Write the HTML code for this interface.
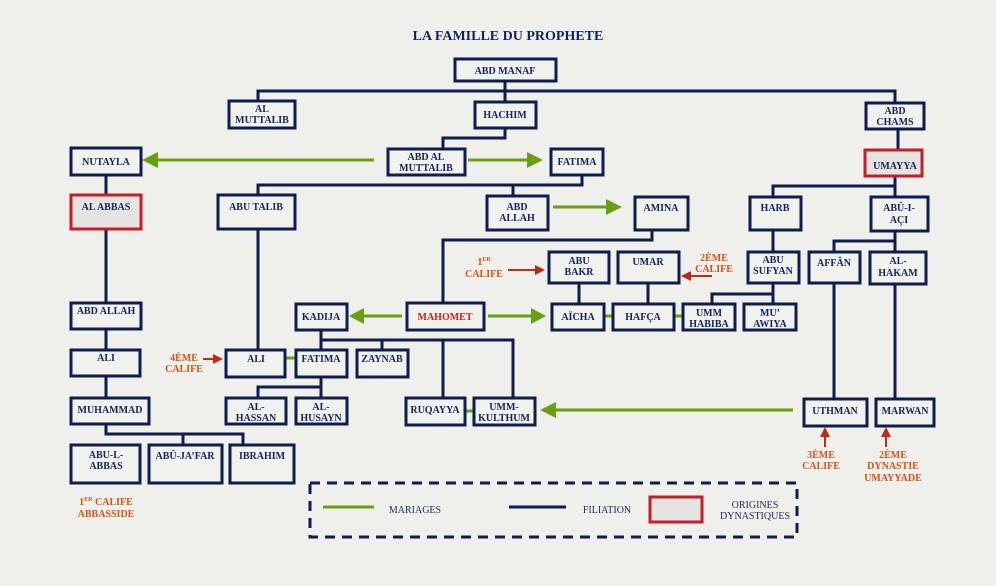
<!DOCTYPE html>
<html><head><meta charset="utf-8"><style>
html,body{margin:0;padding:0;background:#efefeb;}
svg{display:block}
text{font-family:"Liberation Serif",serif;font-weight:bold;font-size:10px;fill:#12235a;text-anchor:middle}
.o{fill:#d2531a}
.l{font-weight:normal;fill:#1d2c5e}
</style></head><body>
<svg width="996" height="586" viewBox="0 0 996 586" xmlns="http://www.w3.org/2000/svg">
<rect width="996" height="586" fill="#efefeb"/>
<text x="508" y="40" style="font-size:14px">LA  FAMILLE  DU  PROPHETE</text>

<g stroke="#0f1d4d" stroke-width="3" fill="none">
<polyline points="505,81 505,102"/>
<polyline points="258,101 258,91 895,91 895,103"/>
<polyline points="505,128 505,138 443,138 443,149"/>
<polyline points="106,175 106,195"/>
<polyline points="106,229 106,303"/>
<polyline points="106,329 106,350"/>
<polyline points="106,376 106,398"/>
<polyline points="106,424 106,434 243,434 243,445"/>
<polyline points="183,434 183,445"/>
<polyline points="582,175 582,185 258,185 258,195"/>
<polyline points="513,185 513,196"/>
<polyline points="258,229 258,350"/>
<polyline points="652,230 652,240 443,240 443,303"/>
<polyline points="898,129 898,150"/>
<polyline points="895,176 895,197"/>
<polyline points="895,186 773,186 773,197"/>
<polyline points="773,230 773,252"/>
<polyline points="773,283 773,304"/>
<polyline points="773,294 712,294 712,304"/>
<polyline points="895,231 895,252"/>
<polyline points="895,241 834,241 834,252"/>
<polyline points="834,283 834,399"/>
<polyline points="895,284 895,399"/>
<polyline points="579,283 579,304"/>
<polyline points="648,283 648,304"/>
<polyline points="321,330 321,350"/>
<polyline points="321,340 513,340 513,398"/>
<polyline points="382,340 382,350"/>
<polyline points="443,340 443,398"/>
<polyline points="321,377 321,398"/>
<polyline points="321,387 258,387 258,398"/>
</g>

<g stroke="#6b9e12" stroke-width="3" fill="none">
<line x1="374" y1="160" x2="156" y2="160"/>
<line x1="468" y1="160" x2="530" y2="160"/>
<line x1="553" y1="207" x2="608" y2="207"/>
<line x1="402" y1="316" x2="362" y2="316"/>
<line x1="488" y1="316" x2="533" y2="316"/>
<line x1="604" y1="316" x2="613" y2="316"/>
<line x1="674" y1="316" x2="686" y2="316"/>
<line x1="285" y1="358" x2="296" y2="358"/>
<line x1="465" y1="411" x2="474" y2="411"/>
<line x1="793" y1="410" x2="554" y2="410"/>
<line x1="323" y1="507" x2="374" y2="507"/>
</g>
<g fill="#6b9e12">
<polygon points="142,160 158,152 158,168"/>
<polygon points="543,160 527,152 527,168"/>
<polygon points="622,207 606,199 606,215"/>
<polygon points="349,316 364,308 364,324"/>
<polygon points="546,316 531,308 531,324"/>
<polygon points="540,410 556,402 556,418"/>
</g>

<g stroke="#c0281a" stroke-width="2" fill="#c0281a">
<line x1="508" y1="270" x2="536" y2="270"/>
<polygon points="545,270 535,265 535,275" stroke="none"/>
<line x1="712" y1="276" x2="690" y2="276"/>
<polygon points="681,276 691,271 691,281" stroke="none"/>
<line x1="203" y1="359" x2="214" y2="359"/>
<polygon points="223,359 213,354 213,364" stroke="none"/>
<line x1="825" y1="447" x2="825" y2="436"/>
<polygon points="825,427 820,437 830,437" stroke="none"/>
<line x1="886" y1="447" x2="886" y2="436"/>
<polygon points="886,427 881,437 891,437" stroke="none"/>
</g>

<g stroke="#0f1d4d" stroke-width="3" fill="#f1f1ee">
<rect x="455" y="59" width="101" height="22"/>
<rect x="229" y="101" width="66" height="27"/>
<rect x="475" y="102" width="61" height="26"/>
<rect x="866" y="103" width="58" height="26"/>
<rect x="71" y="148" width="70" height="27"/>
<rect x="388" y="149" width="77" height="26"/>
<rect x="551" y="149" width="52" height="26"/>
<rect x="218" y="195" width="77" height="34"/>
<rect x="487" y="196" width="61" height="34"/>
<rect x="635" y="197" width="53" height="33"/>
<rect x="750" y="197" width="51" height="33"/>
<rect x="871" y="197" width="57" height="34"/>
<rect x="549" y="252" width="60" height="31"/>
<rect x="618" y="252" width="61" height="31"/>
<rect x="748" y="252" width="51" height="31"/>
<rect x="809" y="252" width="51" height="31"/>
<rect x="870" y="252" width="56" height="32"/>
<rect x="71" y="303" width="70" height="26"/>
<rect x="296" y="304" width="51" height="26"/>
<rect x="407" y="303" width="77" height="27"/>
<rect x="552" y="304" width="52" height="26"/>
<rect x="613" y="304" width="61" height="26"/>
<rect x="683" y="304" width="52" height="26"/>
<rect x="744" y="304" width="52" height="26"/>
<rect x="71" y="350" width="69" height="26"/>
<rect x="226" y="350" width="59" height="27"/>
<rect x="296" y="350" width="51" height="27"/>
<rect x="357" y="350" width="51" height="27"/>
<rect x="71" y="398" width="78" height="26"/>
<rect x="226" y="398" width="60" height="26"/>
<rect x="296" y="398" width="51" height="26"/>
<rect x="406" y="398" width="59" height="27"/>
<rect x="474" y="398" width="61" height="27"/>
<rect x="804" y="399" width="63" height="27"/>
<rect x="876" y="399" width="58" height="27"/>
<rect x="71" y="445" width="69" height="38"/>
<rect x="149" y="445" width="73" height="38"/>
<rect x="230" y="445" width="64" height="38"/>
</g>
<g stroke="#c41e2a" stroke-width="3" fill="#e6e4e2">
<rect x="71" y="195" width="70" height="34"/>
<rect x="865" y="150" width="57" height="26"/>
<rect x="650" y="497" width="52" height="25"/>
</g>

<rect x="310" y="483" width="487" height="54" fill="none" stroke="#0f1d4d" stroke-width="3" stroke-dasharray="10,7"/>
<line x1="509" y1="507" x2="566" y2="507" stroke="#0f1d4d" stroke-width="3"/>
<text class="l" x="415" y="513">MARIAGES</text>
<text class="l" x="607" y="513">FILIATION</text>
<text class="l" x="755" y="508">ORIGINES</text>
<text class="l" x="755" y="519">DYNASTIQUES</text>

<text x="505" y="74">ABD MANAF</text>
<text x="262" y="112">AL</text><text x="262" y="123">MUTTALIB</text>
<text x="505" y="118">HACHIM</text>
<text x="895" y="114">ABD</text><text x="895" y="125">CHAMS</text>
<text x="106" y="165">NUTAYLA</text>
<text x="426" y="160">ABD AL</text><text x="426" y="171">MUTTALIB</text>
<text x="577" y="165">FATIMA</text>
<text x="106" y="210">AL ABBAS</text>
<text x="256" y="210">ABU TALIB</text>
<text x="517" y="210">ABD</text><text x="517" y="221">ALLAH</text>
<text x="661" y="211">AMINA</text>
<text x="775" y="211">HARB</text>
<text x="899" y="211">ABÛ-I-</text><text x="899" y="223">AÇI</text>
<text x="895" y="169">UMAYYA</text>
<text x="579" y="264">ABU</text><text x="579" y="275">BAKR</text>
<text x="648" y="265">UMAR</text>
<text x="773" y="263">ABU</text><text x="773" y="274">SUFYAN</text>
<text x="834" y="266">AFFÂN</text>
<text x="898" y="264">AL-</text><text x="898" y="276">HAKAM</text>
<text x="106" y="314">ABD ALLAH</text>
<text x="321" y="320">KADIJA</text>
<text x="445" y="320" style="fill:#c8211a">MAHOMET</text>
<text x="578" y="320">AÏCHA</text>
<text x="643" y="320">HAFÇA</text>
<text x="709" y="316">UMM</text><text x="709" y="327">HABIBA</text>
<text x="770" y="316">MU’</text><text x="770" y="327">AWIYA</text>
<text x="106" y="361">ALI</text>
<text x="256" y="362">ALI</text>
<text x="321" y="362">FATIMA</text>
<text x="382" y="362">ZAYNAB</text>
<text x="110" y="413">MUHAMMAD</text>
<text x="256" y="410">AL-</text><text x="256" y="421">HASSAN</text>
<text x="321" y="410">AL-</text><text x="321" y="421">HUSAYN</text>
<text x="435" y="413">RUQAYYA</text>
<text x="504" y="410">UMM-</text><text x="504" y="421">KULTHUM</text>
<text x="835" y="414">UTHMAN</text>
<text x="905" y="414">MARWAN</text>
<text x="106" y="458">ABU-L-</text><text x="106" y="469">ABBAS</text>
<text x="185" y="459">ABÛ-JA’FAR</text>
<text x="262" y="459">IBRAHIM</text>

<text class="o" x="484" y="265">1<tspan dy="-4" style="font-size:6px">ER</tspan></text>
<text class="o" x="484" y="277">CALIFE</text>
<text class="o" x="714" y="261">2ÈME</text><text class="o" x="714" y="272">CALIFE</text>
<text class="o" x="184" y="361">4ÈME</text><text class="o" x="184" y="372">CALIFE</text>
<text class="o" x="106" y="505">1<tspan dy="-4" style="font-size:6px">ER</tspan><tspan dy="4"> CALIFE</tspan></text>
<text class="o" x="106" y="517">ABBASSIDE</text>
<text class="o" x="821" y="458">3ÈME</text><text class="o" x="821" y="469">CALIFE</text>
<text class="o" x="893" y="458">2ÈME</text><text class="o" x="893" y="469">DYNASTIE</text><text class="o" x="893" y="481">UMAYYADE</text>
</svg>
</body></html>
